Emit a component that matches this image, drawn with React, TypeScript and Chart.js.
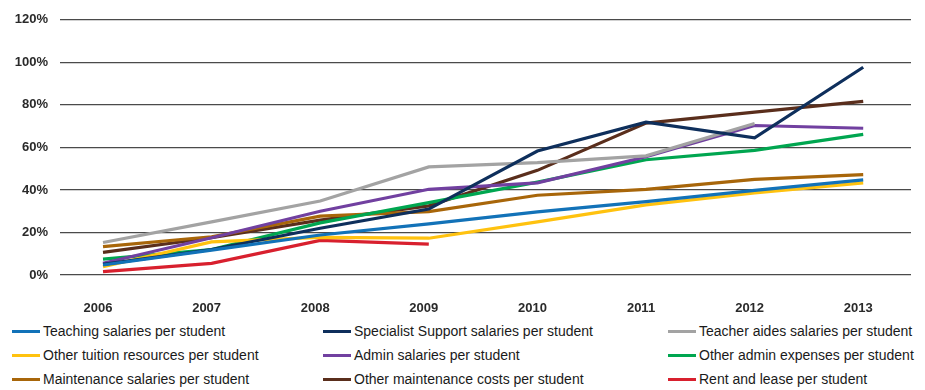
import React, { useEffect, useRef } from "react";
import { Chart, registerables } from "chart.js";

Chart.register(...registerables);

const years = [2006, 2007, 2008, 2009, 2010, 2011, 2012, 2013];
const yTicks = [0, 20, 40, 60, 80, 100, 120];

const teaching = [4.7, 11.7, 18.8, 24.0, 29.7, 34.5, 39.8, 44.7];
const specialist = [5.0, 12.0, 22.0, 31.0, 58.3, 71.9, 64.5, 97.7];
const aides = [15.3, 25.0, 34.8, 50.8, 52.8, 56.0, 71.2, null];
const tuition = [3.9, 15.6, 17.7, 17.3, 25.0, 33.0, 38.6, 43.3];
const admin = [5.5, 17.5, 30.0, 40.3, 43.3, 55.6, 70.3, 69.0];
const adminExp = [7.5, 12.0, 24.5, 34.0, 43.7, 54.2, 58.6, 66.1];
const maintSal = [13.3, 18.0, 27.7, 29.8, 37.5, 40.3, 45.0, 47.2];
const maintCosts = [10.6, 17.5, 25.8, 32.5, 49.2, 71.4, 76.6, 81.6];
const rent = [1.6, 5.5, 16.3, 14.5, null, null, null, null];

const seriesNames = [
  "Teaching salaries per student",
  "Specialist Support salaries per student",
  "Teacher aides salaries per student",
  "Other tuition resources per student",
  "Admin salaries per student",
  "Other admin expenses per student",
  "Maintenance salaries per student",
  "Other maintenance costs per student",
  "Rent and lease per student",
];
const seriesValues = [teaching, specialist, aides, tuition, admin, adminExp, maintSal, maintCosts, rent];
const seriesColors = [
  "#1272b8",
  "#0e2f5c",
  "#a3a3a3",
  "#ffc20f",
  "#7140a0",
  "#00a650",
  "#a8660a",
  "#5a2e1c",
  "#d8202e",
];

const FONT = "'Liberation Sans', Arial, Helvetica, sans-serif";

export default function App() {
  const ref = useRef<HTMLCanvasElement | null>(null);

  useEffect(() => {
    document.body.style.margin = "0";
    const ctx = ref.current!.getContext("2d")!;
    const chart = new Chart(ctx, {
      type: "line",
      data: {
        datasets: seriesNames.map((name, i) => ({
          label: name,
          data: years.map((yr, j) => ({ x: yr, y: seriesValues[i][j] as any })),
          borderColor: seriesColors[i],
          backgroundColor: seriesColors[i],
          borderWidth: 3.2,
          pointRadius: 0,
          tension: 0,
          spanGaps: false,
          borderCapStyle: "butt" as const,
          borderJoinStyle: "miter" as const,
        })),
      },
      options: {
        animation: false,
        responsive: false,
        maintainAspectRatio: false,
        layout: { padding: { top: 19, right: 14, bottom: 0, left: 0 } },
        plugins: {
          legend: { display: false },
          tooltip: { enabled: false },
        },
        scales: {
          x: {
            type: "linear",
            min: 2005.604,
            max: 2013.44,
            border: { display: false },
            grid: { display: false, drawTicks: false },
            afterBuildTicks: (axis: any) => {
              axis.ticks = years.map((v) => ({ value: v }));
            },
            afterFit: (axis: any) => {
              axis.height = 45;
            },
            ticks: {
              padding: 26,
              labelOffset: -5,
              autoSkip: false,
              maxRotation: 0,
              color: "#2a2a2a",
              font: { family: FONT, size: 13, weight: "bold" },
              callback: (v: any) => String(v),
            },
          },
          y: {
            min: 0,
            max: 120,
            border: { display: false },
            afterBuildTicks: (axis: any) => {
              axis.ticks = yTicks.map((v) => ({ value: v }));
            },
            afterFit: (axis: any) => {
              axis.width = 60;
            },
            grid: { color: "#4a4a4a", lineWidth: 1.2, drawTicks: false },
            ticks: {
              padding: 12,
              color: "#2a2a2a",
              font: { family: FONT, size: 13, weight: "bold" },
              callback: (v: any) => v + "%",
            },
          },
        },
      },
    });
    return () => chart.destroy();
  }, []);

  const colLeft = [12, 323, 668];
  const rowTop = [331, 355, 379];

  return (
    <div style={{ position: "relative", width: 925, height: 390, background: "#fff", overflow: "hidden" }}>
      <canvas ref={ref} width={925} height={320} style={{ position: "absolute", left: 0, top: 0, width: 925, height: 320 }} />
      {seriesNames.map((name, i) => {
        const col = i % 3;
        const row = Math.floor(i / 3);
        return (
          <div
            key={name}
            style={{
              position: "absolute",
              left: colLeft[col],
              top: rowTop[row] - 9,
              height: 18,
              display: "flex",
              alignItems: "center",
              whiteSpace: "nowrap",
              fontFamily: FONT,
              fontSize: 14,
              color: "#1a1a1a",
            }}
          >
            <span style={{ display: "inline-block", width: 28, height: 3, background: seriesColors[i], marginRight: 3 }} />
            <span>{name}</span>
          </div>
        );
      })}
    </div>
  );
}
